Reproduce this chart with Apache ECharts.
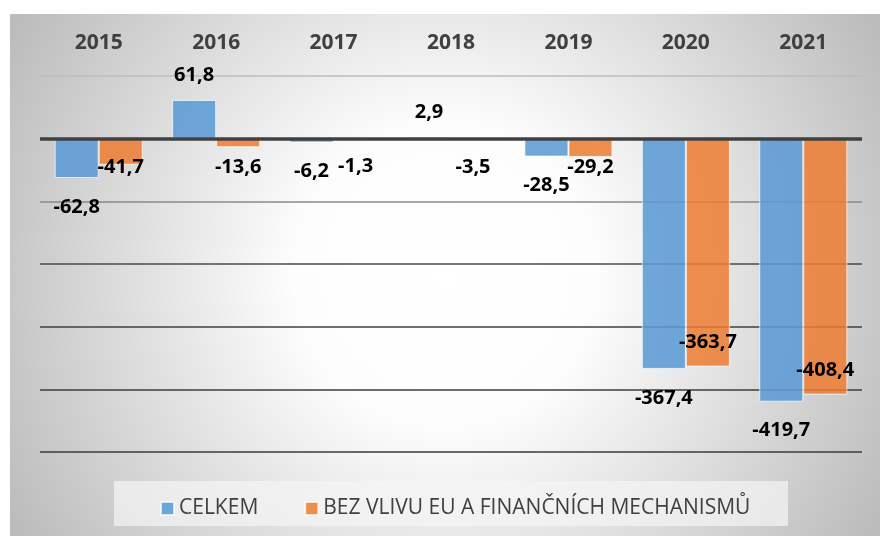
<!DOCTYPE html>
<html>
<head>
<meta charset="utf-8">
<script src="https://cdn.jsdelivr.net/npm/echarts@6/dist/echarts.min.js"></script>
<style>
  html, body { margin: 0; padding: 0; background: #fff; }
  #chart { width: 880px; height: 536px; }
</style>
</head>
<body>
<div id="chart"></div>
<script>
  // data
  var years = ['2015', '2016', '2017', '2018', '2019', '2020', '2021'];
  var celkem = [-62.8, 61.8, -6.2, 2.9, -28.5, -367.4, -419.7];
  var bezVlivu = [-41.7, -13.6, -1.3, -3.5, -29.2, -363.7, -408.4];
  var seriesNames = ['CELKEM', 'BEZ VLIVU EU A FINANČNÍCH MECHANISMŮ'];

  // vertical nudge of the orange labels (they sit where Excel put them)
  var orangeLabelShift = [-8, 10, 17, 16, 0, -34, -34];

  function fmt(p) {
    return p.value.toFixed(1).replace('.', ',');
  }

  var labelFont = {
    fontFamily: 'Open Sans',
    fontWeight: 'bold',
    fontSize: 20,
    color: '#000'
  };

  var chart = echarts.init(document.getElementById('chart'));

  var option = {
    backgroundColor: '#fff',
    animation: false,
    graphic: [
      {
        type: 'rect',
        left: 10, top: 14,
        shape: { width: 870, height: 522 },
        style: {
          fill: new echarts.graphic.RadialGradient(0.5, 0.5, 0.95, [
            { offset: 0, color: '#ffffff' },
            { offset: 0.3, color: '#fdfdfd' },
            { offset: 1, color: '#bcbcbc' }
          ])
        },
        z: -10
      },
      {
        type: 'rect',
        left: 114, top: 481,
        shape: { width: 674, height: 45 },
        style: { fill: 'rgba(245,245,245,0.7)' },
        z: -5
      }
    ],
    grid: {
      left: 40,
      right: 18,
      top: 76,
      bottom: 84
    },
    legend: {
      left: 155,
      top: 493,
      itemWidth: 13,
      itemHeight: 13,
      itemGap: 46,
      icon: 'rect',
      textStyle: {
        fontFamily: 'Open Sans',
        fontSize: 21,
        color: '#404040'
      },
      data: seriesNames
    },
    xAxis: {
      type: 'category',
      position: 'top',
      data: years,
      axisLine: { show: false },
      axisTick: { show: false },
      axisLabel: {
        margin: 22,
        fontFamily: 'Open Sans',
        fontWeight: 'bold',
        fontSize: 21,
        color: '#404040'
      }
    },
    yAxis: {
      type: 'value',
      min: -500,
      max: 100,
      interval: 100,
      axisLine: { show: false },
      axisTick: { show: false },
      axisLabel: { show: false },
      splitLine: {
        lineStyle: {
          width: 1.6,
          color: ['#3a3a3a', '#3c3c3c', '#3f3f3f', '#4a4a4a', '#8a8a8a', 'rgba(0,0,0,0)', '#bdbdbd']
        }
      }
    },
    series: [
      {
        name: seriesNames[0],
        type: 'bar',
        barCategoryGap: '25%',
        barGap: '0%',
        itemStyle: {
          color: 'rgba(91,155,213,0.88)',
          borderColor: 'rgba(255,255,255,0.7)',
          borderWidth: 1
        },
        data: celkem.map(function (v) {
          return {
            value: v,
            label: {
              show: true,
              position: v >= 0 ? 'top' : 'bottom',
              distance: v >= 0 ? 15 : 19
            }
          };
        }),
        label: Object.assign({ show: true, formatter: fmt }, labelFont),
        markLine: {
          silent: true,
          symbol: 'none',
          label: { show: false },
          lineStyle: { color: '#404040', width: 3.5, type: 'solid' },
          data: [{ yAxis: 0 }],
          z: 10
        }
      },
      {
        name: seriesNames[1],
        type: 'bar',
        barCategoryGap: '25%',
        barGap: '0%',
        itemStyle: {
          color: 'rgba(237,125,49,0.85)',
          borderColor: 'rgba(255,255,255,0.7)',
          borderWidth: 1
        },
        data: bezVlivu.map(function (v, i) {
          return {
            value: v,
            label: {
              show: true,
              position: 'bottom',
              distance: 0,
              offset: [0, orangeLabelShift[i]]
            }
          };
        }),
        label: Object.assign({ show: true, formatter: fmt }, labelFont)
      }
    ]
  };

  chart.setOption(option);
</script>
</body>
</html>
